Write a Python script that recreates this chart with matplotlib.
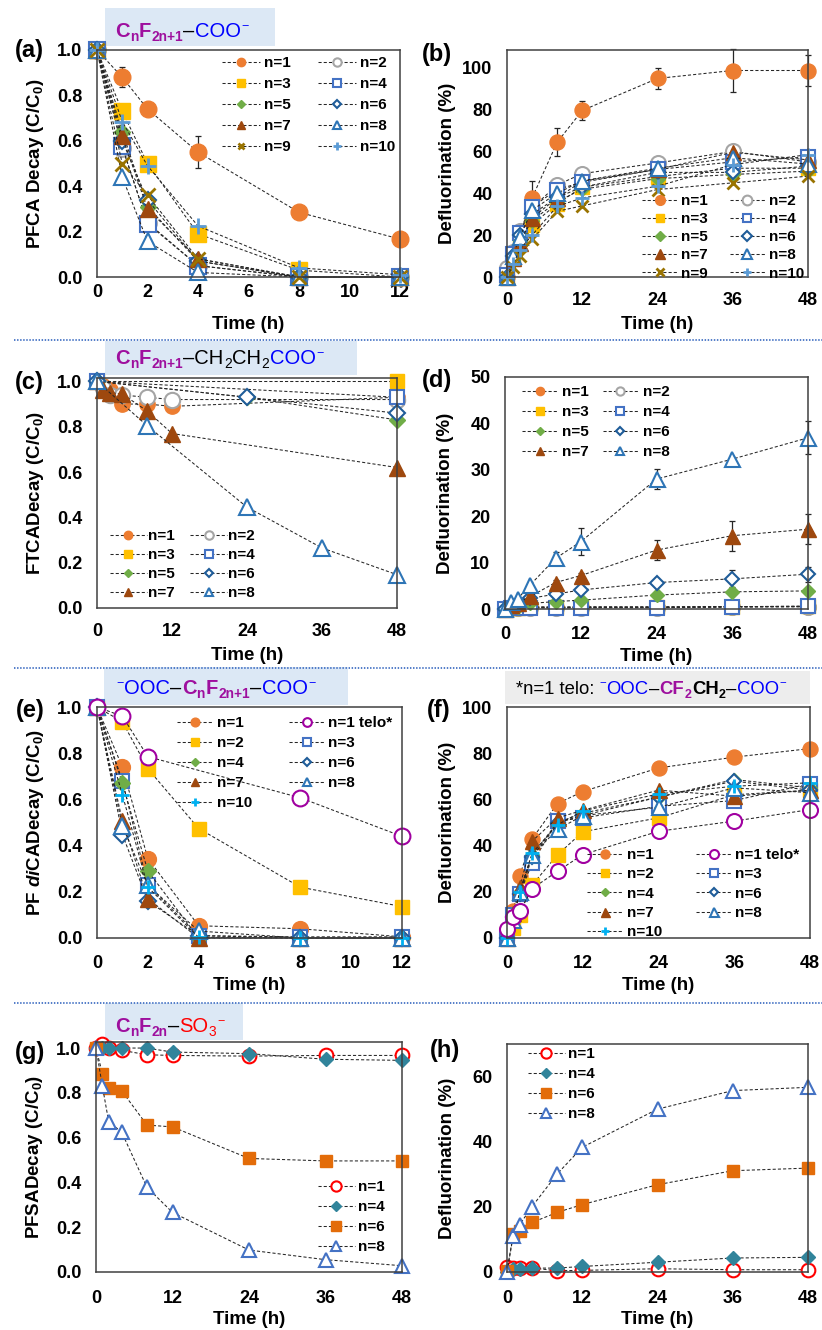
"""
PFAS decay / defluorination panels (a)-(h).
Writes out.png (822 x 1330 px).
"""
import matplotlib
matplotlib.use("Agg")
import matplotlib.pyplot as plt
from matplotlib.lines import Line2D
from matplotlib.patches import Rectangle
from matplotlib.ticker import FormatStrFormatter

W, H = 822, 1330

# ---------------------------------------------------------------- data
# (a) PFCA decay, C/C0
t_a = [0, 1, 2, 4, 8, 12]
a_n1 = [1.00, 0.88, 0.74, 0.55, 0.285, 0.167]
a_n1_err = [0, 0.045, 0, 0.07, 0, 0]
a_n2 = [1.00, 0.57, 0.24, 0.05, 0.00, 0.00]
a_n3 = [1.00, 0.73, 0.50, 0.19, 0.03, 0.00]
a_n4 = [1.00, 0.575, 0.235, 0.05, 0.00, 0.00]
a_n5 = [1.00, 0.64, 0.31, 0.07, 0.00, 0.00]
a_n6 = [1.00, 0.60, 0.34, 0.07, 0.00, 0.00]
a_n7 = [1.00, 0.62, 0.30, 0.08, 0.00, 0.00]
a_n8 = [1.00, 0.44, 0.157, 0.02, 0.00, 0.00]
a_n9 = [1.00, 0.50, 0.36, 0.08, 0.00, 0.00]
a_n10 = [1.00, 0.685, 0.49, 0.225, 0.04, 0.01]

# (b) PFCA defluorination, %
t_b = [0, 1, 2, 4, 8, 12, 24, 36, 48]
b_n1 = [0, 10, 20, 37.8, 64.4, 79.6, 94.9, 98.7, 98.7]
b_n1_err = [0, 0, 0, 7.9, 6.8, 4.4, 5.2, 10.2, 7.2]
b_n2 = [4.3, 12, 22, 33, 44, 49.4, 54.5, 60, 55]
b_n3 = [0, 9, 18, 25, 35, 43, 48, 52, 52]
b_n4 = [1, 11, 21, 33.5, 41.8, 45.3, 51.4, 55, 57.4]
b_n5 = [0, 8, 17, 27, 36, 42, 47, 49, 50.6]
b_n6 = [0, 10, 20, 30, 38, 43, 50, 50, 53]
b_n7 = [0, 9, 16.3, 28.2, 37.8, 45.8, 51.4, 59.6, 56]
b_n8 = [0, 10, 19, 32, 40, 46, 52, 57, 54]
b_n9 = [0, 5, 10, 18, 31.4, 34, 41.8, 45, 48.2]
b_n10 = [0, 6, 13, 20, 33.8, 37.8, 43.4, 53.7, 58.5]

# (c) FTCA decay, C/C0 (sampling times differ per compound)
c_t17 = [0, 1, 2, 4, 8, 12, 48]
c_n1 = [1.00, 0.98, 0.96, 0.90, 0.90, 0.89, 0.93]
c_n2 = [1.00, 0.97, 0.94, 0.94, 0.93, 0.92, 0.92]
c_t34 = [0, 48]
c_n3 = [1.00, 1.00]
c_n4 = [1.00, 0.93]
c_t56 = [0, 24, 48]
c_n5 = [1.00, 0.93, 0.83]
c_n6 = [1.00, 0.93, 0.86]
c_n7 = [1.00, 0.96, 0.95, 0.945, 0.87, 0.77, 0.62]
c_t8 = [0, 8, 24, 36, 48]
c_n8 = [1.00, 0.805, 0.445, 0.265, 0.147]

# (d) FTCA defluorination, %
t_d = [0, 1, 2, 4, 8, 12, 24, 36, 48]
d_n1 = [0, 0.3, 0.3, 0.4, 0.4, 0.4, 0.5, 0.5, 0.5]
d_n2 = [0, 0.2, 0.2, 0.3, 0.3, 0.3, 0.3, 0.4, 0.5]
d_n3 = [0, 0.2, 0.3, 0.5, 0.4, 0.5, 0.4, 0.5, 0.6]
d_n4 = [0, 0.2, 0.2, 0.3, 0.2, 0.3, 0.3, 0.5, 0.6]
d_n5 = [0, 0.3, 0.5, 1.2, 1.6, 1.9, 3.0, 3.7, 3.9]
d_n6 = [0, 0.5, 1.0, 2.3, 3.2, 4.1, 5.7, 6.5, 7.5]
d_n6_err = [0, 0, 0, 0, 0.5, 0.5, 0.8, 1.8, 1.6]
d_n7 = [0, 0.8, 1.3, 2.7, 5.7, 7.2, 12.7, 15.8, 17.2]
d_n7_err = [0, 0, 0, 0, 0.5, 0.5, 2.1, 3.2, 3.2]
d_n8 = [0, 1.5, 2.2, 5.2, 10.9, 14.5, 28.0, 32.3, 36.9]
d_n8_err = [0, 0, 0, 0.5, 1.4, 2.9, 2.1, 0.5, 3.6]

# (e) PFdiCA decay, C/C0
t_e = [0, 1, 2, 4, 8, 12]
e_n1 = [1.00, 0.74, 0.344, 0.053, 0.04, 0.005]
e_t_telo = [0, 1, 2, 8, 12]
e_telo = [1.00, 0.96, 0.785, 0.607, 0.44]
e_n2 = [1.00, 0.936, 0.733, 0.474, 0.22, 0.136]
e_n3 = [1.00, 0.68, 0.228, 0.01, 0.005, 0.005]
e_n4 = [1.00, 0.67, 0.29, 0.00, 0.00, 0.00]
e_n6 = [1.00, 0.448, 0.16, 0.01, 0.00, 0.00]
e_n7 = [1.00, 0.506, 0.17, 0.00, 0.00, 0.00]
e_n8 = [1.00, 0.484, 0.228, 0.03, 0.00, 0.00]
e_n10 = [1.00, 0.62, 0.22, 0.003, 0.00, 0.00]

# (f) PFdiCA defluorination, %
t_f = [0, 1, 2, 4, 8, 12, 24, 36, 48]
f_n1 = [3, 11.6, 27, 43, 58.2, 63.4, 73.6, 78.3, 82]
f_telo = [4, 9, 11.5, 21.4, 28.9, 36.1, 46.2, 50.6, 55.6]
f_n2 = [2, 4.3, 10, 23, 36, 46, 52, 62, 64]
f_n3 = [0, 10, 19, 32.5, 50.6, 52, 57, 59.5, 66.8]
f_n4 = [3, 8, 20, 36, 50, 54, 61, 68.6, 65]
f_n6 = [0, 9, 19, 35, 50, 53, 61, 67.9, 64]
f_n7 = [0, 11, 22, 42, 52, 55.3, 64, 61.4, 64]
f_n8 = [0, 8, 20, 36, 47, 53, 56.6, 65, 62.9]
f_n10 = [0, 8, 20, 36.8, 49, 55, 62.4, 65.7, 67.2]

# (g) PFSA decay, C/C0
t_g = [0, 1, 2, 4, 8, 12, 24, 36, 48]
g_n1 = [1.00, 1.02, 1.00, 0.99, 0.97, 0.967, 0.964, 0.967, 0.967]
g_n4 = [1.00, 1.00, 1.00, 1.00, 1.00, 0.982, 0.975, 0.95, 0.945]
g_n6 = [1.00, 0.886, 0.82, 0.81, 0.656, 0.648, 0.507, 0.496, 0.496]
g_n8 = [1.00, 0.83, 0.67, 0.626, 0.378, 0.266, 0.098, 0.055, 0.028]

# (h) PFSA defluorination, %
t_h = [0, 1, 2, 4, 8, 12, 24, 36, 48]
h_n1 = [1.4, 1.2, 1.2, 1.2, 0.4, 0.5, 1.0, 0.7, 0.7]
h_n4 = [0, 0.8, 1.0, 1.2, 1.2, 1.7, 3.0, 4.3, 4.5]
h_n6 = [0.3, 11.7, 12.7, 15.2, 18.3, 20.7, 26.8, 31.1, 31.9]
h_n8 = [0, 11.2, 14.5, 20.1, 30.1, 38.3, 50.0, 55.7, 56.7]

TELO = "n=1 telo*"

# ---------------------------------------------------------------- styles
PURPLE = "#9E0F9E"
BLUE = "#0000FF"
RED = "#FF0000"
BLACK = "#000000"
LINE = "#262626"

STYLE = {
    "n=1": ("o", "#ED7D31", True),
    "n=2": ("o", "#A5A5A5", False),
    "n=3": ("s", "#FFC000", True),
    "n=4": ("s", "#4472C4", False),
    "n=5": ("D", "#70AD47", True),
    "n=6": ("D", "#1F5C99", False),
    "n=7": ("^", "#9E480E", True),
    "n=8": ("^", "#2E75B6", False),
    "n=9": ("x", "#997300", True),
    "n=10": ("+", "#5B9BD5", True),
}
# dicarboxylates: markers shift with the chain-length list
STYLE_E = {
    "n=1": ("o", "#ED7D31", True),
    "n=2": ("s", "#FFC000", True),
    "n=3": ("s", "#4472C4", False),
    "n=4": ("D", "#70AD47", True),
    "n=6": ("D", "#1F5C99", False),
    "n=7": ("^", "#9E480E", True),
    "n=8": ("^", "#2E75B6", False),
    "n=10": ("+", "#00B0F0", True),
    TELO: ("o", "#A000A0", False),
}
STYLE_G = {
    "n=1": ("o", "#FF0000", False),
    "n=4": ("D", "#31849B", True),
    "n=6": ("s", "#E36C09", True),
    "n=8": ("^", "#4472C4", False),
}
MS = {"o": 12, "s": 11, "D": 8.4, "^": 12, "x": 10, "+": 11}

plt.rcParams.update({
    "font.family": ["Liberation Sans", "DejaVu Sans"],
    "font.weight": "bold",
    "axes.labelweight": "bold",
    "mathtext.fontset": "custom",
    "mathtext.rm": "Liberation Sans:bold",
    "mathtext.it": "Liberation Sans:italic:bold",
    "mathtext.bf": "Liberation Sans:bold",
    "mathtext.default": "regular",
})

fig = plt.figure(figsize=(W / 100, H / 100), dpi=100)
renderer = fig.canvas.get_renderer()


def fx(x):
    return x / W


def fy(y):
    return 1 - y / H


def make_axes(box, xlim, xticks, ylim, yticks, ylabel, yfmt=None, xpad=10):
    l, t, r, b = box
    ax = fig.add_axes([fx(l), fy(b), (r - l) / W, (b - t) / H])
    ax.set_xlim(xlim)
    ax.set_ylim(ylim)
    ax.set_xticks(xticks)
    ax.set_yticks(yticks)
    if yfmt:
        ax.yaxis.set_major_formatter(FormatStrFormatter(yfmt))
    ax.tick_params(axis="x", length=0, labelsize=13, pad=xpad)
    ax.tick_params(axis="y", length=0, labelsize=13, pad=10.5)
    for s in ax.spines.values():
        s.set_color("#404040")
        s.set_linewidth(1.1)
    ax.set_ylabel(ylabel, fontsize=13.5)
    ax.yaxis.set_label_coords(-51 / (r - l), 0.5)
    ax.set_xlabel("Time (h)", fontsize=13.5)
    ax.xaxis.set_label_coords(0.5, -39 / (b - t))
    return ax


def draw(ax, t, y, label, scale, style=STYLE, err=None):
    marker, color, filled = style[label]
    if err is not None:
        idx = [i for i, e in enumerate(err) if e > 0]
        ax.errorbar([t[i] for i in idx], [y[i] for i in idx], yerr=[err[i] for i in idx],
                    fmt="none", ecolor=LINE, elinewidth=0.9, capsize=2.5, capthick=0.9,
                    clip_on=False, zorder=1.5)
    mew = 1.5 if not filled else 1.0
    if marker in "x+":
        mew = 2.0
    line, = ax.plot(t, y, marker=marker, ms=MS[marker] * scale, color=LINE, lw=0.75,
                    dashes=(3, 2), clip_on=False, markeredgecolor=color,
                    markerfacecolor=color if filled else "white", mew=mew, label=label)
    return line


def legend(ax, lines, order, x, y, ncol=2, hl=2.4, cs=1.5, ls=0.4, scale=0.55, tp=0.25):
    by = {ln.get_label(): ln for ln in lines}
    if ncol == 2:
        order = order[0::2] + order[1::2]
    ax.legend([by[k] for k in order], order, loc="upper left",
              bbox_to_anchor=(fx(x), fy(y)), bbox_transform=fig.transFigure, ncol=ncol,
              frameon=False, borderpad=0, borderaxespad=0, handlelength=hl,
              handletextpad=tp, columnspacing=cs, labelspacing=ls, markerscale=scale,
              prop={"weight": "bold", "size": 11})


def header(box, x, y, pieces, size=14.5, face="#DCE8F5"):
    l, t, r, b = box
    fig.add_artist(Rectangle((fx(l), fy(b)), (r - l) / W, (b - t) / H,
                             transform=fig.transFigure, facecolor=face,
                             edgecolor="none", zorder=0))
    spx = size * 100 / 72
    for s, color, weight, kind in pieces:
        if kind == "gap":
            x += float(s) * spx
            continue
        fs, dy = size, 0
        if kind == "sub":
            fs, dy = size * 0.68, -0.22 * spx
        elif kind == "sup":
            fs, dy = size * 0.62, 0.45 * spx
        txt = fig.text(fx(x), fy(y - dy), s, color=color, fontsize=fs, fontweight=weight,
                       ha="left", va="baseline")
        x += txt.get_window_extent(renderer).width + 0.02 * spx


def panel_label(x, y, s):
    fig.text(fx(x), fy(y), s, ha="center", va="center", fontsize=17, fontweight="bold")


def separator(y):
    fig.add_artist(Line2D([fx(14), fx(822)], [fy(y), fy(y)], transform=fig.transFigure,
                          color="#4472C4", lw=1.3, linestyle=(0, (0.8, 0.9))))


ROW = ["n=1", "n=2", "n=3", "n=4", "n=5", "n=6", "n=7", "n=8", "n=9", "n=10"]
ROW_DI = ["n=1", TELO, "n=2", "n=3", "n=4", "n=6", "n=7", "n=8", "n=10"]
ROW_S = ["n=1", "n=4", "n=6", "n=8"]

# ---------------------------------------------------------------- (a)
ax = make_axes((97, 50, 400, 277), (0, 12), range(0, 13, 2), (0, 1.0),
               [0, 0.2, 0.4, 0.6, 0.8, 1.0], "PFCA Decay (C/C$_0$)", "%.1f", xpad=5)
sa = 1.0
lines = [
    draw(ax, t_a, a_n1, "n=1", sa, err=a_n1_err),
    draw(ax, t_a, a_n2, "n=2", sa), draw(ax, t_a, a_n3, "n=3", sa),
    draw(ax, t_a, a_n4, "n=4", sa), draw(ax, t_a, a_n5, "n=5", sa),
    draw(ax, t_a, a_n6, "n=6", sa), draw(ax, t_a, a_n7, "n=7", sa),
    draw(ax, t_a, a_n8, "n=8", sa), draw(ax, t_a, a_n9, "n=9", sa),
    draw(ax, t_a, a_n10, "n=10", sa),
]
legend(ax, lines, ROW, 222, 56, hl=2.5, cs=1.75, ls=0.46, scale=0.5)

# ---------------------------------------------------------------- (b)
ax = make_axes((507, 50, 808, 277), (0, 48), range(0, 49, 12), (0, 108.5),
               range(0, 101, 20), "Defluorination (%)", xpad=11)
sb = 0.9
lines = [
    draw(ax, t_b, b_n1, "n=1", sb, err=b_n1_err),
    draw(ax, t_b, b_n2, "n=2", sb), draw(ax, t_b, b_n3, "n=3", sb),
    draw(ax, t_b, b_n4, "n=4", sb), draw(ax, t_b, b_n5, "n=5", sb),
    draw(ax, t_b, b_n6, "n=6", sb), draw(ax, t_b, b_n7, "n=7", sb),
    draw(ax, t_b, b_n8, "n=8", sb), draw(ax, t_b, b_n9, "n=9", sb),
    draw(ax, t_b, b_n10, "n=10", sb),
]
legend(ax, lines, ROW, 642, 194, hl=2.3, cs=1.45, ls=0.27, scale=0.65)

# ---------------------------------------------------------------- (c)
ax = make_axes((97, 378, 397, 608), (0, 48), range(0, 49, 12), (0, 1.015),
               [0, 0.2, 0.4, 0.6, 0.8, 1.0], "FTCADecay (C/C$_0$)", "%.1f", xpad=11)
sc = 0.92
lines = [
    draw(ax, c_t17, c_n1, "n=1", sc), draw(ax, c_t17, c_n2, "n=2", sc),
    draw(ax, c_t34, c_n3, "n=3", sc), draw(ax, c_t34, c_n4, "n=4", sc),
    draw(ax, c_t56, c_n5, "n=5", sc), draw(ax, c_t56, c_n6, "n=6", sc),
    draw(ax, c_t17, c_n7, "n=7", sc), draw(ax, c_t8, c_n8, "n=8", sc),
]
legend(ax, lines, ROW[:8], 110, 529, hl=2.4, cs=1.0, ls=0.33, scale=0.55, tp=0.1)

# ---------------------------------------------------------------- (d)
ax = make_axes((505, 377, 808, 609), (0, 48), range(0, 49, 12), (0, 50),
               range(0, 51, 10), "Defluorination (%)", xpad=12)
sd = 0.9
lines = [
    draw(ax, t_d, d_n1, "n=1", sd), draw(ax, t_d, d_n2, "n=2", sd),
    draw(ax, t_d, d_n3, "n=3", sd), draw(ax, t_d, d_n4, "n=4", sd),
    draw(ax, t_d, d_n5, "n=5", sd),
    draw(ax, t_d, d_n6, "n=6", sd, err=d_n6_err),
    draw(ax, t_d, d_n7, "n=7", sd, err=d_n7_err),
    draw(ax, t_d, d_n8, "n=8", sd, err=d_n8_err),
]
legend(ax, lines, ROW[:8], 522, 385, hl=2.3, cs=0.9, ls=0.4, scale=0.55, tp=0.33)

# ---------------------------------------------------------------- (e)
ax = make_axes((97, 707, 402, 938), (0, 12), range(0, 13, 2), (0, 1.0),
               [0, 0.2, 0.4, 0.6, 0.8, 1.0], "PF $\\mathit{di}$CADecay (C/C$_0$)", "%.1f",
               xpad=12)
se = 0.95
lines = [
    draw(ax, t_e, e_n1, "n=1", se, STYLE_E), draw(ax, t_e, e_n2, "n=2", se, STYLE_E),
    draw(ax, t_e, e_n3, "n=3", se, STYLE_E), draw(ax, t_e, e_n4, "n=4", se, STYLE_E),
    draw(ax, t_e, e_n6, "n=6", se, STYLE_E), draw(ax, t_e, e_n7, "n=7", se, STYLE_E),
    draw(ax, t_e, e_n8, "n=8", se, STYLE_E), draw(ax, t_e, e_n10, "n=10", se, STYLE_E),
    draw(ax, e_t_telo, e_telo, TELO, se, STYLE_E),
]
legend(ax, lines, ROW_DI, 177, 716, hl=2.35, cs=2.4, ls=0.4, scale=0.55)

# ---------------------------------------------------------------- (f)
ax = make_axes((507, 707, 810, 938), (0, 48), range(0, 49, 12), (0, 100),
               range(0, 101, 20), "Defluorination (%)", xpad=12)
sf = 0.9
lines = [
    draw(ax, t_f, f_n1, "n=1", sf, STYLE_E), draw(ax, t_f, f_n2, "n=2", sf, STYLE_E),
    draw(ax, t_f, f_n3, "n=3", sf, STYLE_E), draw(ax, t_f, f_n4, "n=4", sf, STYLE_E),
    draw(ax, t_f, f_n6, "n=6", sf, STYLE_E), draw(ax, t_f, f_n7, "n=7", sf, STYLE_E),
    draw(ax, t_f, f_n8, "n=8", sf, STYLE_E), draw(ax, t_f, f_n10, "n=10", sf, STYLE_E),
    draw(ax, t_f, f_telo, TELO, sf, STYLE_E),
]
legend(ax, lines, ROW_DI, 587, 848, hl=2.35, cs=2.2, ls=0.35, scale=0.6)

# ---------------------------------------------------------------- (g)
ax = make_axes((96, 1042, 402, 1272), (0, 48), range(0, 49, 12), (0, 1.027),
               [0, 0.2, 0.4, 0.6, 0.8, 1.0], "PFSADecay (C/C$_0$)", "%.1f", xpad=13)
sg = 0.82
lines = [
    draw(ax, t_g, g_n1, "n=1", sg, STYLE_G), draw(ax, t_g, g_n4, "n=4", sg, STYLE_G),
    draw(ax, t_g, g_n6, "n=6", sg, STYLE_G), draw(ax, t_g, g_n8, "n=8", sg, STYLE_G),
]
legend(ax, lines, ROW_S, 318, 1180, ncol=1, hl=2.4, ls=0.4, scale=0.75)

# ---------------------------------------------------------------- (h)
ax = make_axes((507, 1044, 808, 1272), (0, 48), range(0, 49, 12), (0, 70),
               range(0, 61, 20), "Defluorination (%)", xpad=13)
lines = [
    draw(ax, t_h, h_n1, "n=1", sg, STYLE_G), draw(ax, t_h, h_n4, "n=4", sg, STYLE_G),
    draw(ax, t_h, h_n6, "n=6", sg, STYLE_G), draw(ax, t_h, h_n8, "n=8", sg, STYLE_G),
]
legend(ax, lines, ROW_S, 528, 1047, ncol=1, hl=2.4, ls=0.4, scale=0.75)

# ---------------------------------------------------------------- decorations
B_, N_ = "bold", "normal"
header((105, 8, 275, 46), 115, 37, [
    ("C", PURPLE, B_, ""), ("n", PURPLE, B_, "sub"), ("F", PURPLE, B_, ""),
    ("2n+1", PURPLE, B_, "sub"), ("\u2013", BLACK, N_, ""), ("COO", BLUE, N_, ""),
    ("\u2212", BLUE, N_, "sup")])
header((105, 341, 357, 375), 115, 364, [
    ("C", PURPLE, B_, ""), ("n", PURPLE, B_, "sub"), ("F", PURPLE, B_, ""),
    ("2n+1", PURPLE, B_, "sub"), ("\u2013CH", BLACK, N_, ""), ("2", BLACK, N_, "sub"),
    ("CH", BLACK, N_, ""), ("2", BLACK, N_, "sub"), ("COO", BLUE, N_, ""),
    ("\u2212", BLUE, N_, "sup")])
header((104, 667, 348, 705), 116, 694, [
    ("\u2212", BLUE, N_, "sup"), ("OOC", BLUE, N_, ""), ("\u2013", BLACK, N_, ""),
    ("C", PURPLE, B_, ""), ("n", PURPLE, B_, "sub"), ("F", PURPLE, B_, ""),
    ("2n+1", PURPLE, B_, "sub"), ("\u2013", BLACK, N_, ""), ("COO", BLUE, N_, ""),
    ("\u2212", BLUE, N_, "sup")])
header((505, 671, 810, 704), 516, 694, [
    ("*n=1 telo:", BLACK, N_, ""), ("0.25", None, None, "gap"),
    ("\u2212", BLUE, N_, "sup"), ("OOC", BLUE, N_, ""), ("\u2013", BLACK, N_, ""),
    ("CF", PURPLE, B_, ""), ("2", PURPLE, B_, "sub"), ("CH", BLACK, B_, ""),
    ("2", BLACK, B_, "sub"), ("\u2013", BLACK, N_, ""), ("COO", BLUE, N_, ""),
    ("\u2212", BLUE, N_, "sup")], size=13.3, face="#EDEDED")
header((105, 1003, 243, 1040), 115, 1032, [
    ("C", PURPLE, B_, ""), ("n", PURPLE, B_, "sub"), ("F", PURPLE, B_, ""),
    ("2n", PURPLE, B_, "sub"), ("\u2013", BLACK, N_, ""), ("SO", RED, N_, ""),
    ("3", RED, N_, "sub"), ("\u2212", RED, N_, "sup")])

for lbl, x, y in [("(a)", 29, 50), ("(b)", 437, 55), ("(c)", 29, 382), ("(d)", 437, 380),
                  ("(e)", 30, 710), ("(f)", 439, 711), ("(g)", 30, 1053), ("(h)", 445, 1051)]:
    panel_label(x, y, lbl)

for y in (339.5, 667.5, 1003):
    separator(y)

fig.savefig("out.png", dpi=100)
